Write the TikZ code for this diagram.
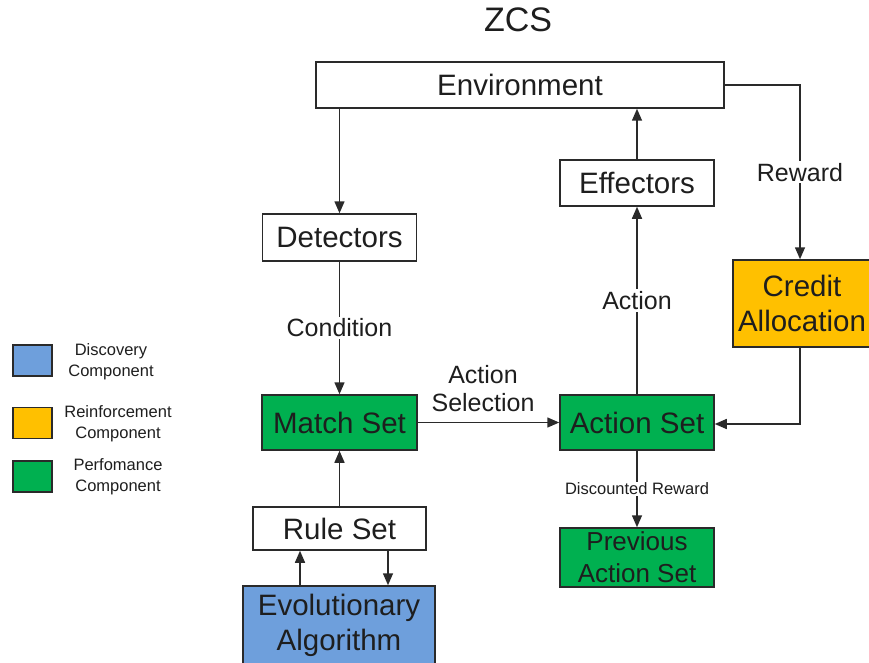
\documentclass[tikz,border=0pt]{standalone}
\usepackage{fontspec}
\setmainfont{Liberation Sans}
\usetikzlibrary{arrows.meta}
\definecolor{txt}{HTML}{1E1E1E}
\definecolor{ln}{HTML}{2A2A2A}
\definecolor{perf}{HTML}{00B050}
\definecolor{reinf}{HTML}{FFC000}
\definecolor{disc}{RGB}{110,159,220}
\tikzset{
  box/.style={draw=ln, line width=1.5pt, rectangle, inner sep=0pt, text=txt, align=center},
  bigtxt/.style={font=\fontsize{29.5}{35}\selectfont},
  midtxt/.style={font=\fontsize{26}{32}\selectfont},
  lbl/.style={fill=white, text=txt, inner sep=2pt, font=\fontsize{25}{28}\selectfont, align=center},
  smalllbl/.style={fill=white, text=txt, inner sep=1pt, font=\fontsize{16.5}{19}\selectfont},
  legtxt/.style={text=txt, font=\fontsize{16.5}{21}\selectfont, align=center},
  legbox/.style={draw=ln, line width=1.5pt, minimum width=39pt, minimum height=31pt, inner sep=0pt},
  conn/.style={draw=ln, line width=1.5pt, -{Triangle[length=12pt,width=10pt]}},
  plain/.style={draw=ln, line width=1.5pt}
}
\begin{document}
\begin{tikzpicture}[x=1pt,y=-1pt]
\useasboundingbox (0,0) rectangle (869,663);
\node[text=txt, font=\fontsize{34}{36}\selectfont] (title) at (518,20) {ZCS};

\node[box, bigtxt, minimum width=408pt, minimum height=46pt] (env) at (520,85) {Environment};
\node[box, bigtxt, minimum width=154pt, minimum height=46pt] (eff) at (637,183) {Effectors};
\node[box, bigtxt, minimum width=154pt, minimum height=47pt] (det) at (339.5,237.5) {Detectors};
\node[box, bigtxt, fill=reinf, minimum width=138pt, minimum height=87pt] (credit) at (802,303.5) {Credit\\Allocation};
\node[box, bigtxt, fill=perf, minimum width=155pt, minimum height=55pt] (match) at (339.5,422.5) {Match Set};
\node[box, bigtxt, fill=perf, minimum width=154pt, minimum height=55pt] (act) at (637,422.5) {Action Set};
\node[box, bigtxt, minimum width=173pt, minimum height=43pt] (rule) at (339.5,528.5) {Rule Set};
\node[box, bigtxt, fill=disc, minimum width=192pt, minimum height=78pt] (ea) at (339,625) {Evolutionary\\Algorithm};
\node[box, midtxt, fill=perf, minimum width=154pt, minimum height=59pt] (prev) at (637,557.5) {Previous\\Action Set};

% connectors
\draw[conn] (env.south -| det) -- (det.north);
\draw[conn] (det) -- node[lbl] {Condition} (match);
\draw[conn] (match) -- (act);
\node[lbl, fill=none] (actsel) at (483,389) {Action\\Selection};
\draw[conn] (act) -- node[lbl] {Action} (eff);
\draw[conn] (eff) -- (env.south -| eff);
\coordinate (envr) at (800,85);
\draw[conn] (env.east) -- (envr) -- node[lbl] {Reward} (credit.north -| envr);
\coordinate (crb) at (800,424);
\draw[conn] (credit.south -| crb) -- (crb) -- (act.east |- crb);
\draw[conn] (act) -- node[smalllbl] {Discounted Reward} (prev);
\draw[conn] (rule) -- (match);
\draw[conn] (ea.north -| 300,0) -- (rule.south -| 300,0);
\draw[conn] (rule.south -| 388,0) -- (ea.north -| 388,0);

% legend
\node[legbox, fill=disc] (l1) at (32.5,360.5) {};
\node[legtxt] (l1t) at (111,362) {Discovery\\Component};
\node[legbox, fill=reinf] (l2) at (32.5,423) {};
\node[legtxt] (l2t) at (118,424) {Reinforcement\\Component};
\node[legbox, fill=perf] (l3) at (32.5,476.5) {};
\node[legtxt] (l3t) at (118,477) {Perfomance\\Component};
\end{tikzpicture}
\end{document}
